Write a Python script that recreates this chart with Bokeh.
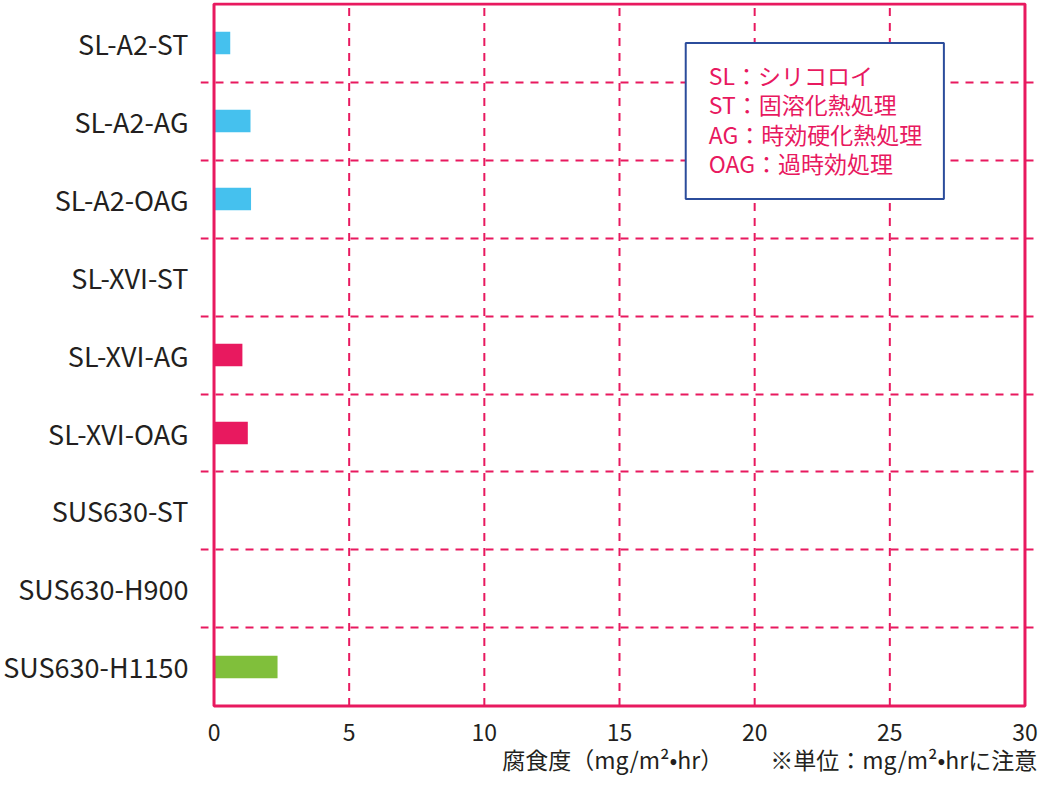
from bokeh.plotting import figure
from bokeh.models import Range1d, FixedTicker, Label, BoxAnnotation, ColumnDataSource
from bokeh.embed import file_html
from bokeh.resources import INLINE

categories = ["SL-A2-ST", "SL-A2-AG", "SL-A2-OAG",
              "SL-XVI-ST", "SL-XVI-AG", "SL-XVI-OAG",
              "SUS630-ST", "SUS630-H900", "SUS630-H1150"]
values = [0.6, 1.35, 1.37, 0.0, 1.05, 1.25, 0.0, 0.0, 2.35]
groups = ["SL-A2"] * 3 + ["SL-XVI"] * 3 + ["SUS630"] * 3
x_ticks = [0, 5, 10, 15, 20, 25, 30]
legend_lines = ["SL：シリコロイ", "ST：固溶化熱処理", "AG：時効硬化熱処理", "OAG：過時効処理"]
x_title = "腐食度（mg/m²•hr）"
note = "※単位：mg/m²•hrに注意"

group_colors = {"SL-A2": "#45c1ee", "SL-XVI": "#e8195f", "SUS630": "#80bf3b"}
PINK = "#e8195f"
INK = "#231f20"
FONT = "Noto Sans CJK JP"

n = len(categories)
xmin, xmax = x_ticks[0], x_ticks[-1]
ypos = [n - 0.5 - i for i in range(n)]
src = ColumnDataSource(dict(y=ypos, v=values, c=[group_colors[g] for g in groups]))

# the frame reaches past the plotting box so tick labels and bottom texts live inside it
p = figure(width=1038, height=778, output_backend="svg", toolbar_location=None,
           x_range=Range1d(xmin - 0.5, xmax + 0.5), y_range=Range1d(-0.93, n + 0.02),
           min_border_left=191, min_border_right=0, min_border_top=2, min_border_bottom=0)
p.outline_line_color = None

# vertical dashed grid lines, limited to the plotting box
inner = x_ticks[1:-1]
p.segment(x0=inner, x1=inner, y0=[0] * len(inner), y1=[n] * len(inner),
          line_color=PINK, line_width=2, line_dash="8 7")
p.xgrid.visible = False
p.ygrid.ticker = FixedTicker(ticks=list(range(1, n)))
p.ygrid.grid_line_color = PINK
p.ygrid.grid_line_width = 2
p.ygrid.grid_line_dash = "8 7"
p.ygrid.bounds = (xmin, xmax)

p.hbar(y="y", left=0, right="v", height=0.29, fill_color="c", line_color=None, source=src)

# pink plotting box
p.add_layout(BoxAnnotation(left=xmin, right=xmax, bottom=0, top=n,
                           fill_color=None, line_color=PINK, line_width=3, line_alpha=1))

# x axis pinned at y=0
xa = p.xaxis[0]
xa.fixed_location = 0
xa.ticker = FixedTicker(ticks=x_ticks)
xa.axis_line_color = None
xa.major_tick_line_color = None
xa.minor_tick_line_color = None
xa.major_label_text_font = FONT
xa.major_label_text_font_size = "23px"
xa.major_label_text_color = INK
xa.major_label_standoff = 12

# y axis
p.yaxis.ticker = FixedTicker(ticks=ypos)
p.yaxis.major_label_overrides = {y: c for y, c in zip(ypos, categories)}
p.yaxis.axis_line_color = None
p.yaxis.major_tick_line_color = None
p.yaxis.minor_tick_line_color = None
p.yaxis.major_label_text_font = FONT
p.yaxis.major_label_text_font_size = "27px"
p.yaxis.major_label_text_color = INK
p.yaxis.major_label_standoff = 6

# legend box
p.add_layout(BoxAnnotation(left=17.45, right=27.0, bottom=6.5, top=8.5,
                           fill_color="white", fill_alpha=1,
                           line_color="#2b4c9b", line_width=2, line_alpha=1, level="overlay"))
for i, t in enumerate(legend_lines):
    p.add_layout(Label(x=18.3, y=8.094 - i * 0.377, text=t, text_font=FONT,
                       text_font_size="23px", text_color=PINK,
                       text_baseline="middle", text_align="left", level="overlay"))

# bottom texts
p.add_layout(Label(x=14.75, y=-0.68, text=x_title, text_font=FONT, text_font_size="23px",
                   text_color=INK, text_align="center", text_baseline="middle"))
p.add_layout(Label(x=xmax + 0.45, y=-0.68, text=note, text_font=FONT, text_font_size="23px",
                   text_color=INK, text_align="right", text_baseline="middle"))

open("out.html", "w").write(file_html(p, INLINE))
